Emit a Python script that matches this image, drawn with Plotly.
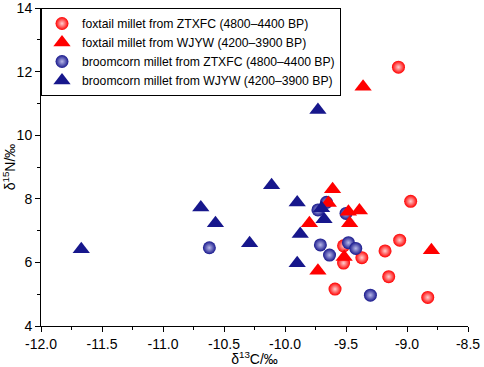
import plotly.graph_objects as go

# foxtail millet from ZTXFC (4800–4400 BP)
fox_ztxfc_c = [-9.07, -8.97, -9.06, -9.18, -9.15, -8.83, -9.59, -9.37, -9.52, -9.52]
fox_ztxfc_n = [12.14, 7.92, 6.70, 6.36, 5.55, 4.90, 5.16, 6.15, 6.52, 5.98]

# foxtail millet from WJYW (4200–3900 BP)
fox_wjyw_c = [-9.36, -8.80, -9.61, -9.80, -9.48, -9.39, -9.47, -9.645, -9.515, -9.73]
fox_wjyw_n = [11.52, 6.38, 8.30, 7.23, 7.59, 7.63, 7.23, 7.87, 6.17, 5.74]

# broomcorn millet from ZTXFC (4800–4400 BP)
broom_ztxfc_c = [-9.71, -10.62, -9.71, -9.635, -9.48, -9.42, -9.30, -9.66, -9.73, -9.50]
broom_ztxfc_n = [12.97, 6.46, 6.55, 6.23, 6.62, 6.44, 4.97, 7.89, 7.65, 7.54]

# broomcorn millet from WJYW (4200–3900 BP)
broom_wjyw_c = [-11.67, -10.69, -10.57, -10.29, -10.11, -9.90, -9.875, -9.90, -9.73, -9.70, -9.68]
broom_wjyw_n = [6.41, 7.73, 7.23, 6.60, 8.43, 7.88, 6.89, 5.97, 10.79, 7.70, 7.36]

x_ticks = [-12.0, -11.5, -11.0, -10.5, -10.0, -9.5, -9.0, -8.5]
y_ticks = [4, 6, 8, 10, 12, 14]

RED = "#ff0000"
BLUE = "#17178c"
FONT = "Liberation Sans, Arial, sans-serif"

fig = go.Figure()
fig.add_trace(go.Scatter(
    x=fox_ztxfc_c, y=fox_ztxfc_n, mode="markers",
    name="foxtail millet from ZTXFC (4800–4400 BP)", legendrank=1,
    marker=dict(symbol="circle", size=13, color=RED,
                gradient=dict(type="radial", color="#ffd0d0"),
                line=dict(width=0))))
fig.add_trace(go.Scatter(
    x=broom_ztxfc_c, y=broom_ztxfc_n, mode="markers",
    name="broomcorn millet from ZTXFC (4800–4400 BP)", legendrank=3,
    marker=dict(symbol="circle", size=13, color=BLUE,
                gradient=dict(type="radial", color="#b8b8e8"),
                line=dict(width=0))))
fig.add_trace(go.Scatter(
    x=fox_wjyw_c, y=fox_wjyw_n, mode="markers",
    name="foxtail millet from WJYW (4200–3900 BP)", legendrank=2,
    marker=dict(symbol="triangle-up", size=15, color=RED, line=dict(width=0))))
fig.add_trace(go.Scatter(
    x=broom_wjyw_c, y=broom_wjyw_n, mode="markers",
    name="broomcorn millet from WJYW (4200–3900 BP)", legendrank=4,
    marker=dict(symbol="triangle-up", size=15, color=BLUE, line=dict(width=0))))

fig.update_layout(
    width=484, height=367,
    margin=dict(l=41, r=16, t=8, b=41, autoexpand=False),
    paper_bgcolor="white", plot_bgcolor="white",
    font=dict(family=FONT, size=14, color="black"),
    legend=dict(x=0, y=1, xanchor="left", yanchor="top",
                bordercolor="black", borderwidth=1, bgcolor="white",
                font=dict(size=12.2), itemwidth=30,
                tracegroupgap=0),
    showlegend=True,
)
fig.update_xaxes(
    range=[-12.0, -8.5], tickvals=x_ticks,
    ticktext=[f"{v:.1f}" for v in x_ticks],
    showgrid=False, zeroline=False, showline=True, linecolor="black", linewidth=1,
    ticks="outside", ticklen=5, tickcolor="black", ticklabeloverflow="allow",
    minor=dict(dtick=0.25, tick0=-12, ticks="outside", ticklen=3, tickcolor="black"),
    title=dict(text="δ<sup>13</sup>C/‰", standoff=0, font=dict(size=14)),
    tickfont=dict(size=14), automargin=False,
)
fig.update_yaxes(
    range=[4, 14], tickvals=y_ticks,
    showgrid=False, zeroline=False, showline=True, linecolor="black", linewidth=1,
    ticks="outside", ticklen=5, tickcolor="black", ticklabeloverflow="allow",
    minor=dict(dtick=1, tick0=4, ticks="outside", ticklen=3, tickcolor="black"),
    title=dict(text="δ<sup>15</sup>N/‰", standoff=0, font=dict(size=14)),
    tickfont=dict(size=14), automargin=False,
)

fig.write_html("out.html", config={"displayModeBar": False},
               post_script="document.body.style.margin='0';document.body.style.overflow='hidden';")
